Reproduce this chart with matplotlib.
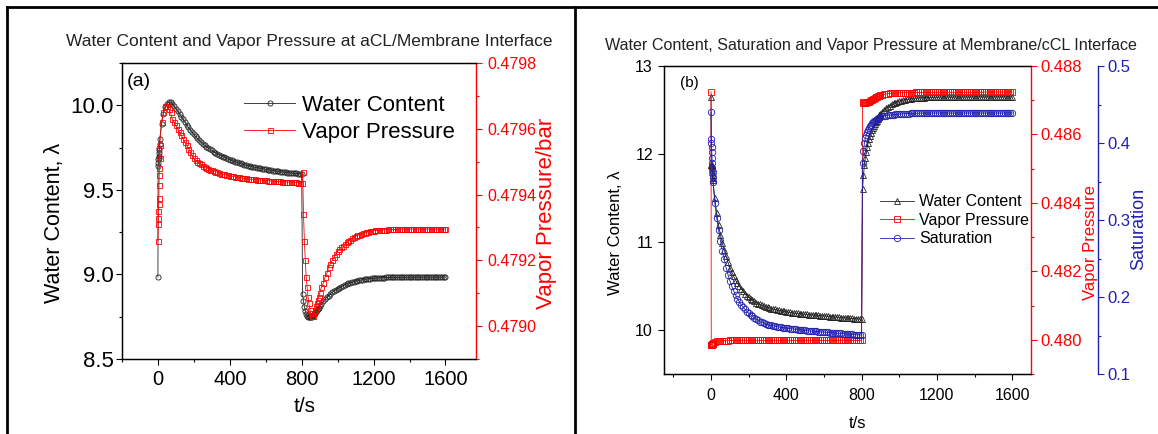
import numpy as np
import matplotlib
matplotlib.use('Agg')
import matplotlib.pyplot as plt
from matplotlib.lines import Line2D
from matplotlib.ticker import MultipleLocator, FormatStrFormatter

plt.rcParams['font.family'] = ['Liberation Sans', 'DejaVu Sans']

# sampling times (s): fine steps right after each switch
t = np.concatenate([np.arange(0, 10), np.arange(10, 800, 10), [800],
                    np.arange(805, 900, 5), np.arange(900, 1601, 10)])

# (a) aCL/membrane interface
wc_a = [8.985, 9.64, 9.66, 9.68, 9.69, 9.70, 9.72, 9.735, 9.75, 9.77,
        9.80, 9.89, 9.95, 9.99, 10.01, 10.02, 10.02, 10.01, 9.995, 9.98,
        9.965, 9.95, 9.933, 9.916, 9.90, 9.884, 9.869, 9.855, 9.841, 9.828,
        9.816, 9.804, 9.793, 9.783, 9.773, 9.764, 9.756, 9.748, 9.74, 9.733,
        9.726, 9.72, 9.714, 9.708, 9.702, 9.697, 9.692, 9.687, 9.682, 9.678,
        9.674, 9.67, 9.666, 9.662, 9.659, 9.656, 9.652, 9.649, 9.646, 9.643,
        9.641, 9.638, 9.636, 9.633, 9.631, 9.629, 9.627, 9.625, 9.623, 9.621,
        9.619, 9.617, 9.615, 9.614, 9.612, 9.611, 9.609, 9.608, 9.606, 9.605,
        9.604, 9.602, 9.601, 9.60, 9.599, 9.598, 9.597, 9.596, 9.595,
        9.594,
        8.884, 8.84, 8.81, 8.785, 8.768, 8.757, 8.75, 8.747, 8.746, 8.747,
        8.75, 8.754, 8.759, 8.765, 8.772, 8.779, 8.787, 8.795, 8.803,
        8.811, 8.826, 8.84, 8.853, 8.865, 8.875, 8.885, 8.894, 8.902, 8.909,
        8.916, 8.922, 8.928, 8.933, 8.938, 8.943, 8.947, 8.951, 8.954, 8.957,
        8.96, 8.963, 8.965, 8.967, 8.969, 8.971, 8.973, 8.974, 8.975, 8.976,
        8.977, 8.978, 8.979, 8.98, 8.98, 8.981, 8.981, 8.982, 8.982, 8.982,
        8.983, 8.983, 8.983, 8.983, 8.983, 8.983, 8.983, 8.983, 8.983, 8.983,
        8.983, 8.983, 8.983, 8.984, 8.984, 8.984, 8.984, 8.984, 8.984, 8.984,
        8.984, 8.984, 8.984, 8.984, 8.984, 8.984, 8.984, 8.984, 8.984, 8.984,
        8.984]

vp_a = [0.47926, 0.47931, 0.47933, 0.47935, 0.47937, 0.47939, 0.47943, 0.47946, 0.47948, 0.47951,
        0.47955, 0.47962, 0.47965, 0.47967, 0.47967, 0.47966, 0.47965, 0.47963, 0.47962, 0.47961,
        0.4796, 0.47959, 0.47958, 0.47957, 0.47956, 0.47955, 0.47954, 0.47953, 0.47952, 0.47951,
        0.479505, 0.4795, 0.479496, 0.479492, 0.479488, 0.479485, 0.479482, 0.479479, 0.479476, 0.479474,
        0.479472, 0.47947, 0.479468, 0.479466, 0.479464, 0.479462, 0.479461, 0.47946, 0.479458, 0.479457,
        0.479456, 0.479455, 0.479454, 0.479453, 0.479452, 0.479451, 0.47945, 0.479449, 0.479449, 0.479448,
        0.479447, 0.479447, 0.479446, 0.479446, 0.479445, 0.479445, 0.479444, 0.479444, 0.479443, 0.479443,
        0.479442, 0.479442, 0.479441, 0.479441, 0.479441, 0.47944, 0.47944, 0.47944, 0.479439, 0.479439,
        0.479439, 0.479438, 0.479438, 0.479438, 0.479437, 0.479437, 0.479437, 0.479436, 0.479436,
        0.479436,
        0.47947, 0.47934, 0.47926, 0.4792, 0.47915, 0.47912, 0.47909, 0.47907, 0.47905, 0.47904,
        0.47903, 0.47903, 0.47903, 0.47904, 0.47905, 0.47906, 0.47907, 0.47908, 0.47909,
        0.4791, 0.47912, 0.47913, 0.47915, 0.47916, 0.47918, 0.47919, 0.4792, 0.47921, 0.47922,
        0.479228, 0.479234, 0.47924, 0.479245, 0.47925, 0.479255, 0.479259, 0.479263, 0.479267, 0.47927,
        0.479273, 0.479276, 0.479278, 0.47928, 0.479282, 0.479284, 0.479285, 0.479287, 0.479288, 0.479289,
        0.47929, 0.479291, 0.479291, 0.479292, 0.479292, 0.479293, 0.479293, 0.479293, 0.479294, 0.479294,
        0.479294, 0.479294, 0.479294, 0.479294, 0.479294, 0.479295, 0.479295, 0.479295, 0.479295, 0.479295,
        0.479295, 0.479295, 0.479295, 0.479295, 0.479295, 0.479295, 0.479295, 0.479295, 0.479295, 0.479295,
        0.479295, 0.479295, 0.479295, 0.479295, 0.479295, 0.479295, 0.479295, 0.479295, 0.479295, 0.479295,
        0.479295]

# (b) membrane/cCL interface
wc_b = [12.65, 11.88, 11.88, 11.87, 11.86, 11.84, 11.82, 11.79, 11.76, 11.73,
        11.70, 11.50, 11.33, 11.19, 11.08, 10.99, 10.91, 10.84, 10.77, 10.71,
        10.66, 10.61, 10.57, 10.53, 10.50, 10.47, 10.44, 10.41, 10.39, 10.37,
        10.355, 10.34, 10.325, 10.31, 10.30, 10.29, 10.28, 10.272, 10.264, 10.257,
        10.25, 10.244, 10.238, 10.233, 10.228, 10.223, 10.219, 10.215, 10.211, 10.207,
        10.204, 10.20, 10.197, 10.194, 10.191, 10.189, 10.186, 10.184, 10.181, 10.179,
        10.177, 10.175, 10.173, 10.171, 10.169, 10.167, 10.165, 10.163, 10.161, 10.159,
        10.157, 10.155, 10.153, 10.151, 10.149, 10.147, 10.145, 10.143, 10.141, 10.139,
        10.137, 10.135, 10.134, 10.132, 10.131, 10.13, 10.128, 10.127, 10.126,
        10.125,
        11.60, 11.76, 11.88, 11.96, 12.02, 12.08, 12.13, 12.17, 12.21, 12.24,
        12.27, 12.30, 12.32, 12.34, 12.36, 12.38, 12.40, 12.42, 12.44,
        12.46, 12.48, 12.50, 12.52, 12.535, 12.55, 12.563, 12.574, 12.584, 12.593,
        12.60, 12.606, 12.612, 12.617, 12.621, 12.625, 12.628, 12.631, 12.634, 12.636,
        12.638, 12.64, 12.641, 12.642, 12.643, 12.644, 12.645, 12.645, 12.646, 12.646,
        12.647, 12.647, 12.647, 12.648, 12.648, 12.648, 12.648, 12.649, 12.649, 12.649,
        12.649, 12.649, 12.649, 12.649, 12.649, 12.649, 12.649, 12.649, 12.649, 12.649,
        12.65, 12.65, 12.65, 12.65, 12.65, 12.65, 12.65, 12.65, 12.65, 12.65,
        12.65, 12.65, 12.65, 12.65, 12.65, 12.65, 12.65, 12.65, 12.65, 12.65,
        12.65]

vp_b = [0.48724, 0.47985, 0.47985, 0.47986, 0.47986, 0.47987, 0.47987, 0.47988, 0.47988, 0.47989,
        0.4799, 0.47993, 0.47995, 0.47996, 0.47997, 0.479972, 0.479975, 0.479977, 0.479978, 0.47998,
        0.47998, 0.47998, 0.47998, 0.47998, 0.47998, 0.47998, 0.47998, 0.47998, 0.47998, 0.47998,
        0.47998, 0.47998, 0.47998, 0.47998, 0.47998, 0.47998, 0.47998, 0.47998, 0.47998, 0.47998,
        0.47998, 0.47998, 0.47998, 0.47998, 0.47998, 0.47998, 0.47998, 0.47998, 0.47998, 0.47998,
        0.47998, 0.47998, 0.47998, 0.47998, 0.47998, 0.47998, 0.47998, 0.47998, 0.47998, 0.47998,
        0.47998, 0.47998, 0.47998, 0.47998, 0.47998, 0.47998, 0.47998, 0.47998, 0.47998, 0.47998,
        0.47998, 0.47998, 0.47998, 0.47998, 0.47998, 0.47998, 0.47998, 0.47998, 0.47998, 0.47998,
        0.47998, 0.47998, 0.47998, 0.47998, 0.47998, 0.47998, 0.47998, 0.47998, 0.47998,
        0.47998,
        0.48695, 0.48693, 0.48692, 0.48692, 0.48693, 0.48694, 0.48695, 0.48696, 0.48698, 0.487,
        0.48702, 0.48704, 0.48705, 0.48707, 0.48708, 0.4871, 0.48711, 0.48712, 0.48713,
        0.48714, 0.48716, 0.48717, 0.48718, 0.48719, 0.4872, 0.487205, 0.48721, 0.487213, 0.487216,
        0.487218, 0.48722, 0.48722, 0.487222, 0.487222, 0.487224, 0.487224, 0.487225, 0.487225, 0.487226,
        0.487226, 0.487227, 0.487227, 0.487228, 0.487228, 0.487228, 0.487229, 0.487229, 0.487229, 0.48723,
        0.48723, 0.48723, 0.48723, 0.48723, 0.48723, 0.48723, 0.48723, 0.48723, 0.48723, 0.48723,
        0.48723, 0.48723, 0.48723, 0.48723, 0.48723, 0.48723, 0.48723, 0.48723, 0.48723, 0.48723,
        0.48723, 0.48723, 0.48723, 0.48723, 0.48723, 0.48724, 0.48724, 0.48724, 0.48724, 0.48724,
        0.48724, 0.48724, 0.48724, 0.48724, 0.48724, 0.48724, 0.48724, 0.48724, 0.48724, 0.48724,
        0.48724]

sat_b = [0.44, 0.405, 0.40, 0.395, 0.388, 0.38, 0.374, 0.368, 0.362, 0.356,
         0.35, 0.322, 0.303, 0.287, 0.273, 0.26, 0.249, 0.238, 0.229, 0.221,
         0.214, 0.208, 0.203, 0.198, 0.194, 0.19, 0.187, 0.184, 0.181, 0.179,
         0.177, 0.175, 0.173, 0.171, 0.17, 0.168, 0.167, 0.166, 0.165, 0.164,
         0.1635, 0.163, 0.1625, 0.162, 0.1615, 0.161, 0.1606, 0.1602, 0.1598, 0.1595,
         0.1592, 0.1589, 0.1586, 0.1583, 0.158, 0.1577, 0.1574, 0.1571, 0.1568, 0.1565,
         0.1562, 0.156, 0.1558, 0.1556, 0.1554, 0.1552, 0.155, 0.1548, 0.1546, 0.1544,
         0.1542, 0.154, 0.1538, 0.1536, 0.1534, 0.1532, 0.153, 0.1528, 0.1526, 0.1524,
         0.1522, 0.152, 0.1518, 0.1516, 0.1514, 0.1512, 0.151, 0.1508, 0.1506,
         0.1505,
         0.374, 0.39, 0.40, 0.406, 0.41, 0.414, 0.417, 0.42, 0.422, 0.424,
         0.426, 0.427, 0.428, 0.429, 0.43, 0.431, 0.432, 0.432, 0.433,
         0.434, 0.4345, 0.435, 0.4355, 0.436, 0.4363, 0.4366, 0.4369, 0.4372, 0.4374,
         0.4376, 0.4378, 0.438, 0.4381, 0.4382, 0.4383, 0.4384, 0.4385, 0.4386, 0.4387,
         0.4388, 0.4388, 0.4389, 0.4389, 0.4389, 0.439, 0.439, 0.439, 0.439, 0.439,
         0.439, 0.439, 0.439, 0.439, 0.439, 0.439, 0.439, 0.439, 0.439, 0.439,
         0.439, 0.439, 0.439, 0.439, 0.439, 0.439, 0.439, 0.439, 0.439, 0.439,
         0.439, 0.439, 0.439, 0.439, 0.439, 0.439, 0.439, 0.439, 0.439, 0.439,
         0.439, 0.439, 0.439, 0.439, 0.439, 0.439, 0.439, 0.439, 0.439, 0.439,
         0.439]

RED = '#ff0000'
BLUE = '#2020b0'
BLACK = '#222222'
W, H = 1158, 434


def px_axes(left, top, right, bottom):
    return [left / W, 1 - bottom / H, (right - left) / W, (bottom - top) / H]


def style_ticks(ax, color, size, major, minor):
    ax.tick_params(which='both', direction='out', colors=color, labelsize=size, width=0.8)
    ax.tick_params(which='major', length=major)
    ax.tick_params(which='minor', length=minor)


fig = plt.figure(figsize=(W / 100, H / 100), dpi=100)

# ---- panel (a) ----
ax_a = fig.add_axes(px_axes(122, 63, 476, 359))
ax_a2 = ax_a.twinx()
la, = ax_a.plot(t, wc_a, color=BLACK, lw=0.6, marker='o', ms=3.7, mfc='none',
                mew=0.6, label='Water Content')
lb, = ax_a2.plot(t, vp_a, color=RED, lw=0.6, marker='s', ms=3.6, mfc='none',
                 mew=0.6, label='Vapor Pressure')
ax_a.set_xlim(-200, 1770)
ax_a.set_ylim(8.5, 10.25)
ax_a2.set_ylim(0.4789, 0.4798)
ax_a.xaxis.set_major_locator(MultipleLocator(400))
ax_a.xaxis.set_minor_locator(MultipleLocator(200))
ax_a.yaxis.set_major_locator(MultipleLocator(0.5))
ax_a.yaxis.set_minor_locator(MultipleLocator(0.25))
ax_a.yaxis.set_major_formatter(FormatStrFormatter('%.1f'))
ax_a2.yaxis.set_major_locator(MultipleLocator(0.0002))
ax_a2.yaxis.set_minor_locator(MultipleLocator(0.0001))
ax_a2.yaxis.set_major_formatter(FormatStrFormatter('%.4f'))
style_ticks(ax_a, 'black', 16, 4, 2.5)
ax_a.tick_params(axis='x', labelsize=14.5, pad=4)
ax_a.tick_params(axis='y', pad=2)
style_ticks(ax_a2, RED, 11.5, 4, 2.5)
ax_a2.tick_params(axis='y', pad=4)
for s in ax_a.spines.values():
    s.set_linewidth(1.0)
ax_a.spines['right'].set_visible(False)
ax_a2.spines['right'].set_color(RED)
ax_a2.spines['right'].set_linewidth(1.0)

ax_a.set_ylabel('Water Content, λ', fontsize=15.5)
ax_a.yaxis.set_label_coords(-0.19, 0.461)
ax_a2.set_ylabel('Vapor Pressure/bar', fontsize=16, color=RED)
ax_a2.yaxis.set_label_coords(1.198, 0.493)
ax_a2.yaxis.label.set(ha='center', va='center')
ax_a.yaxis.label.set(ha='center', va='center')
ax_a.set_xlabel('t/s', fontsize=15)
ax_a.xaxis.set_label_coords(0.5155, -0.159)
ax_a.xaxis.label.set(va='center')
ax_a.text(0.53, 1.071, 'Water Content and Vapor Pressure at aCL/Membrane Interface',
          transform=ax_a.transAxes, ha='center', va='center', fontsize=12.5,
          color='#222222')
ax_a2.text(0.013, 0.936, '(a)', transform=ax_a.transAxes, ha='left', va='center',
           fontsize=14)
ax_a2.legend(handles=[la, lb], loc='upper left', bbox_to_anchor=(0.345, 0.892),
             frameon=False, fontsize=16, handlelength=2.3, handletextpad=0.3,
             labelspacing=0.25, borderpad=0, borderaxespad=0)

# ---- panel (b) ----
ax_b = fig.add_axes(px_axes(664, 66, 1031, 374))
ax_b2 = ax_b.twinx()
ax_b3 = ax_b.twinx()
lc, = ax_b.plot(t, wc_b, color=BLACK, lw=0.6, marker='^', ms=5.0, mfc='none',
                mew=0.6, label='Water Content')
ld, = ax_b2.plot(t, vp_b, color=RED, lw=0.6, marker='s', ms=4.3, mfc='none',
                 mew=0.6, label='Vapor Pressure')
le, = ax_b3.plot(t, sat_b, color=BLUE, lw=0.6, marker='o', ms=4.6, mfc='none',
                 mew=0.6, label='Saturation')
ax_b.set_xlim(-250, 1700)
ax_b.set_ylim(9.5, 13)
ax_b2.set_ylim(0.479, 0.488)
ax_b3.set_ylim(0.1, 0.5)
ax_b.xaxis.set_major_locator(MultipleLocator(400))
ax_b.xaxis.set_minor_locator(MultipleLocator(200))
ax_b.yaxis.set_major_locator(MultipleLocator(1))
ax_b.yaxis.set_major_formatter(FormatStrFormatter('%d'))
ax_b2.yaxis.set_major_locator(MultipleLocator(0.002))
ax_b2.yaxis.set_minor_locator(MultipleLocator(0.001))
ax_b2.yaxis.set_major_formatter(FormatStrFormatter('%.3f'))
ax_b3.yaxis.set_major_locator(MultipleLocator(0.1))
ax_b3.yaxis.set_minor_locator(MultipleLocator(0.05))
ax_b3.yaxis.set_major_formatter(FormatStrFormatter('%.1f'))
style_ticks(ax_b, 'black', 11.5, 4, 2.5)
ax_b.tick_params(axis='x', pad=6)
ax_b.tick_params(axis='y', pad=4)
style_ticks(ax_b2, RED, 12, 4, 2.5)
ax_b2.tick_params(axis='y', pad=3)
style_ticks(ax_b3, BLUE, 12, 4, 2.5)
ax_b3.tick_params(axis='y', pad=3)
for s in ax_b.spines.values():
    s.set_linewidth(1.0)
ax_b.spines['right'].set_visible(False)
ax_b2.spines['right'].set_color(RED)
ax_b2.spines['right'].set_linewidth(1.0)
for side in ('top', 'bottom', 'left'):
    ax_b3.spines[side].set_visible(False)
ax_b3.spines['right'].set_position(('axes', 1.1826))
ax_b3.spines['right'].set_color(BLUE)
ax_b3.spines['right'].set_linewidth(1.0)

ax_b.set_ylabel('Water Content, λ', fontsize=12)
ax_b.yaxis.set_label_coords(-0.1335, 0.459)
ax_b.yaxis.label.set(ha='center', va='center')
ax_b2.set_ylabel('Vapor Pressure', fontsize=12, color=RED)
ax_b2.yaxis.set_label_coords(1.163, 0.427)
ax_b2.yaxis.label.set(ha='center', va='center')
ax_b3.set_ylabel('Saturation', fontsize=13, color=BLUE)
ax_b3.yaxis.set_label_coords(1.294, 0.471)
ax_b3.yaxis.label.set(ha='center', va='center')
ax_b.set_xlabel('t/s', fontsize=12)
ax_b.xaxis.set_label_coords(0.526, -0.162)
ax_b.xaxis.label.set(va='center')
ax_b.text(0.565, 1.065,
          'Water Content, Saturation and Vapor Pressure at Membrane/cCL Interface',
          transform=ax_b.transAxes, ha='center', va='center', fontsize=11.6,
          color='#222222')
ax_b3.text(0.044, 0.945, '(b)', transform=ax_b.transAxes, ha='left', va='center',
           fontsize=11)
ax_b3.legend(handles=[lc, ld, le], loc='upper left', bbox_to_anchor=(0.589, 0.584),
             frameon=False, fontsize=11.5, handlelength=2.1, handletextpad=0.35,
             labelspacing=0.22, borderpad=0, borderaxespad=0)

# outer frame and divider
for x0, y0, x1, y1 in [(7, 7, W, 7), (7, 7, 7, H), (575, 7, 575, H)]:
    fig.add_artist(Line2D([x0 / W, x1 / W], [1 - y0 / H, 1 - y1 / H],
                          transform=fig.transFigure, color='black', lw=2.0))

fig.savefig('out.png', dpi=100)
